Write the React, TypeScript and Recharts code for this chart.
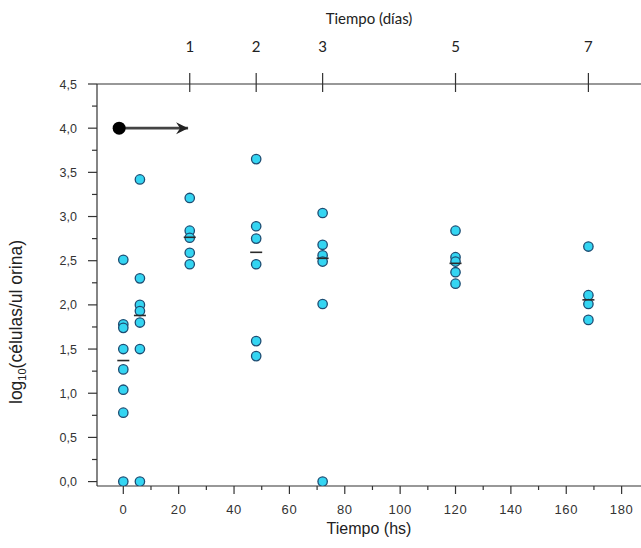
import React from 'react';
import { ScatterChart, Scatter, XAxis, YAxis, Label } from 'recharts';

// sampling times (hours) and log10 counts measured at each one
const sampleHours = [0, 6, 24, 48, 72, 120, 168];
const log0h = [2.51, 1.78, 1.74, 1.5, 1.27, 1.04, 0.78, 0];
const log6h = [3.42, 2.3, 2.0, 1.93, 1.8, 1.5, 0];
const log24h = [3.21, 2.84, 2.76, 2.59, 2.46];
const log48h = [3.65, 2.89, 2.75, 2.46, 1.59, 1.42];
const log72h = [3.04, 2.68, 2.56, 2.49, 2.01, 0];
const log120h = [2.84, 2.54, 2.49, 2.37, 2.24];
const log168h = [2.66, 2.11, 2.01, 1.83];
const meanLog = [1.37, 1.88, 2.765, 2.595, 2.527, 2.47, 2.057];

const hourTicks = [0, 10, 20, 30, 40, 50, 60, 70, 80, 90, 100, 110, 120, 130, 140, 150, 160, 170, 180];
const dayTicks = [1, 2, 3, 5, 7];
const yTicks = [0, 0.25, 0.5, 0.75, 1, 1.25, 1.5, 1.75, 2, 2.25, 2.5, 2.75, 3, 3.25, 3.5, 3.75, 4, 4.25, 4.5];

// treatment arrow drawn at log = 4 from the start to day 1
const arrowStart = -1.5;
const arrowEnd = 23.4;
const arrowLevel = 4.0;

const columns = [log0h, log6h, log24h, log48h, log72h, log120h, log168h];
const points = columns.flatMap((vals, i) => vals.map((v) => ({ x: sampleHours[i], y: v })));
const means = meanLog.map((m, i) => ({ x: sampleHours[i], y: m }));
const arrow = [
  { x: arrowStart, y: arrowLevel, end: false },
  { x: arrowEnd, y: arrowLevel, end: true },
];

const W = 641;
const H = 548;
const X_DOMAIN: [number, number] = [-9.5, 187];
const AXIS = '#333';
const SANS = '"Liberation Sans", Arial, sans-serif';
const CALIBRI = 'Lato, "Open Sans", sans-serif';

const CellDot = (p: any) => (
  <circle cx={p.cx} cy={p.cy} r={4.7} fill="#34d5f2" stroke="#1d4c72" strokeWidth={1.3} />
);

const MeanDash = (p: any) => (
  <line x1={p.cx - 6} x2={p.cx + 6} y1={p.cy} y2={p.cy} stroke="#2a2a2a" strokeWidth={1.6} />
);

const ArrowEnd = (p: any) => {
  if (p.payload && p.payload.end) {
    const { cx, cy } = p;
    return (
      <path
        d={`M${cx},${cy} L${cx - 12},${cy - 6} L${cx - 8},${cy} L${cx - 12},${cy + 6} Z`}
        fill="#222"
      />
    );
  }
  return <circle cx={p.cx} cy={p.cy} r={6.5} fill="#000" />;
};

const YTick = (p: any) => {
  const v = p.payload.value;
  const major = Math.abs(v * 2 - Math.round(v * 2)) < 1e-6;
  return (
    <g>
      <line x1={p.x - (major ? 9 : 5)} x2={p.x} y1={p.y} y2={p.y} stroke={AXIS} strokeWidth={1.2} />
      {major && (
        <text x={p.x - 20} y={p.y} dy={4.5} textAnchor="end" fontSize={12.5} fontFamily={SANS} fill="#333" stroke="none">
          {v.toFixed(1).replace('.', ',')}
        </text>
      )}
    </g>
  );
};

const BottomTick = (p: any) => {
  const v = p.payload.value;
  const major = v % 20 === 0;
  return (
    <g>
      <line x1={p.x} x2={p.x} y1={p.y} y2={p.y + (major ? 8 : 4)} stroke={AXIS} strokeWidth={1.2} />
      {major && (
        <text x={p.x} y={p.y + 28} textAnchor="middle" fontSize={13} fontFamily={SANS} fill="#333" stroke="none" letterSpacing={0.6}>
          {v}
        </text>
      )}
    </g>
  );
};

const TopTick = (p: any) => (
  <g>
    <line x1={p.x} x2={p.x} y1={p.y - 11} y2={p.y + 8} stroke={AXIS} strokeWidth={1.2} />
    <text x={p.x} y={p.y - 32} textAnchor="middle" fontSize={15} fontFamily={CALIBRI} fill="#222" stroke="none">
      {Math.round(p.payload.value / 24)}
    </text>
  </g>
);

// axis titles, placed relative to the plot box (left edge = y axis line)
const AxisTitles = (p: any) => {
  const vb = p.viewBox;
  const plotLeft = vb.x + vb.width;
  const plotMid = (plotLeft + W) / 2;
  return (
    <g stroke="none">
      <text x={plotMid} y={24} textAnchor="middle" fontSize={15} fontFamily={CALIBRI} fill="#222">
        Tiempo (días)
      </text>
      <text x={plotMid} y={H - 14} textAnchor="middle" fontSize={16} fontFamily={SANS} fill="#222">
        Tiempo (hs)
      </text>
      <text transform="translate(22,322) rotate(-90)" textAnchor="middle" fontSize={17.5} fontFamily={SANS} fill="#222">
        log
        <tspan fontSize={11} dy={4}>10</tspan>
        <tspan dy={-4}>(células/ul orina)</tspan>
      </text>
    </g>
  );
};

export default function App() {
  return (
    <div style={{ position: 'absolute', left: 0, top: 0, background: '#fff' }}>
      <ScatterChart width={W} height={H} margin={{ top: 24, right: 0, bottom: 0, left: 37 }}>
        <XAxis
          xAxisId="top"
          orientation="top"
          type="number"
          dataKey="x"
          domain={X_DOMAIN}
          allowDataOverflow
          ticks={dayTicks.map((d) => d * 24)}
          height={60}
          tickSize={0}
          tickMargin={0}
          tickLine={false}
          axisLine={{ stroke: AXIS, strokeWidth: 1.2 }}
          tick={(p: any) => <TopTick {...p} />}
        />
        <XAxis
          xAxisId="bottom"
          orientation="bottom"
          type="number"
          dataKey="x"
          domain={X_DOMAIN}
          allowDataOverflow
          ticks={hourTicks}
          interval={0}
          height={62}
          tickSize={0}
          tickMargin={0}
          tickLine={false}
          axisLine={{ stroke: AXIS, strokeWidth: 1.2 }}
          tick={(p: any) => <BottomTick {...p} />}
        />
        <YAxis
          type="number"
          dataKey="y"
          domain={[-0.05, 4.5]}
          allowDataOverflow
          ticks={yTicks}
          interval={0}
          width={60}
          tickSize={0}
          tickMargin={0}
          tickLine={false}
          axisLine={{ stroke: AXIS, strokeWidth: 1.2 }}
          tick={(p: any) => <YTick {...p} />}
        >
          <Label content={AxisTitles} />
        </YAxis>
        <Scatter xAxisId="bottom" data={points} shape={CellDot} isAnimationActive={false} />
        <Scatter xAxisId="bottom" data={means} shape={MeanDash} isAnimationActive={false} />
        <Scatter
          xAxisId="top"
          data={arrow}
          line={{ stroke: '#444', strokeWidth: 2.8 }}
          shape={ArrowEnd}
          isAnimationActive={false}
        />
      </ScatterChart>
    </div>
  );
}
